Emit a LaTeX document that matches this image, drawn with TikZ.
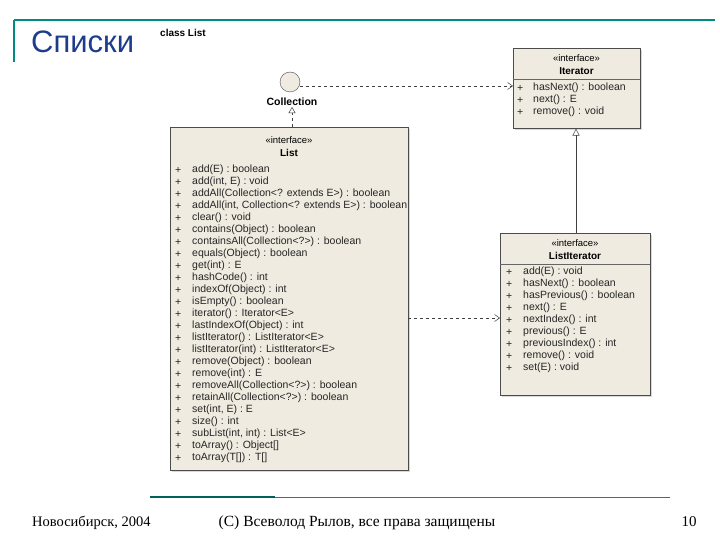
\documentclass[tikz,border=0pt]{standalone}
\usepackage{fontspec}
\setmainfont{Liberation Serif}
\newfontfamily\myss{Liberation Sans}
\usetikzlibrary{arrows.meta,shadows}
\definecolor{boxfill}{RGB}{240,235,224}
\definecolor{teal1}{RGB}{0,140,130}
\definecolor{titleblue}{RGB}{30,60,140}
\tikzset{
 cls/.style={draw=black!70,fill=boxfill,line width=0.6pt,drop shadow={shadow xshift=2pt,shadow yshift=-2pt,opacity=0.3},inner sep=0pt},
 mem/.style={font=\myss\fontsize{10.5}{11}\selectfont,anchor=west,inner sep=0pt,text=black!85},
 hdr/.style={font=\myss\fontsize{9.5}{10}\selectfont,inner sep=0pt},
 hdrb/.style={font=\myss\bfseries\fontsize{10}{11}\selectfont,inner sep=0pt},
 dep/.style={draw=black!75,dashed,line width=0.5pt,-{Straight Barb[length=5pt,width=7pt]}},
 real/.style={draw=black!75,dashed,line width=0.5pt,-{Triangle[open,length=6pt,width=7pt]}},
 gen/.style={draw=black!75,line width=0.5pt,-{Triangle[open,length=7pt,width=7pt]}},
}
\begin{document}
\begin{tikzpicture}[x=1pt,y=-1pt]
\useasboundingbox (0,0) rectangle (720,540);
\fill[white] (0,0) rectangle (720,540);
% frame lines
\draw[teal1,line width=1.2pt] (14,20) -- (715,20);
\draw[teal1,line width=1.2pt] (14,20) -- (14,62);
\draw[teal1!70!black,line width=1.5pt] (150,497) -- (275,497);
\draw[teal1,line width=1pt] (275,497) -- (670,497);
\node[font=\myss\fontsize{31}{33}\selectfont,text=titleblue,anchor=west,inner sep=0pt] (title) at (31,42) {Списки};
\node[font=\myss\bfseries\fontsize{10}{11}\selectfont,anchor=west,inner sep=0pt] (cl) at (160,33) {class List};
% Collection
\node[circle,draw=black!70,fill=boxfill,minimum size=20pt,inner sep=0pt] (coll) at (290,82) {};
\node[font=\myss\bfseries\fontsize{10.5}{11}\selectfont,inner sep=1pt] (colllab) at (292,102) {Collection};
% Iterator
\node[cls,minimum width=127pt,minimum height=80pt,anchor=north west] (it) at (513,48) {};
\draw[black!60] (513,79) -- (640,79);
\node[hdr] at (576.5,58) {«interface»};
\node[hdrb] at (576.5,71) {Iterator};
\foreach \t [count=\i] in {hasNext() : boolean, next() : E, remove() : void}{
 \node[mem] at (517,76+12*\i) {+};
 \node[mem] at (533,76+12*\i) {\t};}
% ListIterator
\node[cls,minimum width=150pt,minimum height=162pt,anchor=north west] (li) at (500,233) {};
\draw[black!60] (500,264) -- (650,264);
\node[hdr] at (575,243) {«interface»};
\node[hdrb] at (575,256) {ListIterator};
\foreach \t [count=\i] in {add(E) : void, hasNext() : boolean, hasPrevious() : boolean, next() : E, nextIndex() : int, previous() : E, previousIndex() : int, remove() : void, set(E) : void}{
 \node[mem] at (506,260+12*\i) {+};
 \node[mem] at (523,260+12*\i) {\t};}
% List
\node[cls,minimum width=238pt,minimum height=343pt,anchor=north west] (list) at (170,127) {};
\node[hdr] at (289,140) {«interface»};
\node[hdrb] at (289,153) {List};
\foreach \t [count=\i] in {add(E) : boolean, add(int{,} E) : void, addAll(Collection<? extends E>) : boolean, addAll(int{,} Collection<? extends E>) : boolean, clear() : void, contains(Object) : boolean, containsAll(Collection<?>) : boolean, equals(Object) : boolean, get(int) : E, hashCode() : int, indexOf(Object) : int, isEmpty() : boolean, iterator() : Iterator<E>, lastIndexOf(Object) : int, listIterator() : ListIterator<E>, listIterator(int) : ListIterator<E>, remove(Object) : boolean, remove(int) : E, removeAll(Collection<?>) : boolean, retainAll(Collection<?>) : boolean, set(int{,} E) : E, size() : int, subList(int{,} int) : List<E>, toArray() : Object[], toArray(T[]) : T[]}{
 \node[mem] at (175,158+12*\i) {+};
 \node[mem] at (192,158+12*\i) {\t};}
% connectors
\coordinate (itl) at (513,86);
\coordinate (lil) at (500,318);
\coordinate (listr) at (408,318);
\draw[dep] (coll.east |- itl) -- (itl);
\draw[real] (list.north -| colllab) -- (colllab.south);
\draw[gen] (li.north -| 576,0) -- (it.south -| 576,0);
\draw[dep] (listr) -- (lil);
% footer
\node[font=\fontsize{14.5}{16}\selectfont,anchor=west,inner sep=0pt] (f1) at (32,523) {Новосибирск, 2004};
\node[font=\fontsize{15.5}{17}\selectfont,inner sep=0pt] (f2) at (357,523) {(C) Всеволод Рылов, все права защищены};
\node[font=\fontsize{15}{16}\selectfont,inner sep=0pt] (f3) at (689,522) {10};
\end{tikzpicture}
\end{document}
